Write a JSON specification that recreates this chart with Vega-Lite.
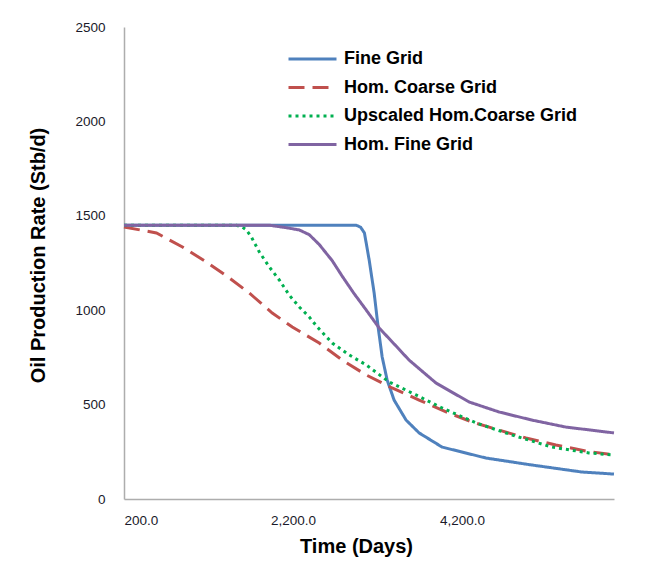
{
  "$schema": "https://vega.github.io/schema/vega-lite/v6.json",
  "width": 490,
  "height": 472,
  "autosize": {"type": "none"},
  "padding": {"left": 124, "top": 27, "right": 47, "bottom": 63},
  "background": "white",
  "config": {
    "view": {"stroke": null},
    "axis": {"grid": false, "ticks": false, "domainColor": "#ADADAD", "domainWidth": 1.5,
             "labelFont": "Liberation Sans", "labelFontSize": 13.5, "labelColor": "#1a1a2a",
             "titleFont": "Liberation Sans", "titleFontSize": 20, "titleFontWeight": "bold", "titleColor": "#000000"},
    "legend": {"labelFont": "Liberation Sans", "labelFontSize": 18, "labelFontWeight": "bold", "labelColor": "#000000", "labelLimit": 400}
  },
  "data": {"values": [
    {"series": "Fine Grid", "t": 200, "q": 1450},
    {"series": "Fine Grid", "t": 1000, "q": 1450},
    {"series": "Fine Grid", "t": 2000, "q": 1450},
    {"series": "Fine Grid", "t": 2948, "q": 1450},
    {"series": "Fine Grid", "t": 3000, "q": 1440},
    {"series": "Fine Grid", "t": 3046, "q": 1409},
    {"series": "Fine Grid", "t": 3102, "q": 1266},
    {"series": "Fine Grid", "t": 3161, "q": 1091},
    {"series": "Fine Grid", "t": 3208, "q": 911},
    {"series": "Fine Grid", "t": 3256, "q": 752},
    {"series": "Fine Grid", "t": 3315, "q": 630},
    {"series": "Fine Grid", "t": 3397, "q": 524},
    {"series": "Fine Grid", "t": 3539, "q": 418},
    {"series": "Fine Grid", "t": 3693, "q": 350},
    {"series": "Fine Grid", "t": 3965, "q": 275},
    {"series": "Fine Grid", "t": 4485, "q": 217},
    {"series": "Fine Grid", "t": 5028, "q": 180},
    {"series": "Fine Grid", "t": 5619, "q": 143},
    {"series": "Fine Grid", "t": 6000, "q": 132},
    {"series": "Hom. Coarse Grid", "t": 200, "q": 1441},
    {"series": "Hom. Coarse Grid", "t": 584, "q": 1409},
    {"series": "Hom. Coarse Grid", "t": 892, "q": 1335},
    {"series": "Hom. Coarse Grid", "t": 1175, "q": 1255},
    {"series": "Hom. Coarse Grid", "t": 1447, "q": 1171},
    {"series": "Hom. Coarse Grid", "t": 1683, "q": 1091},
    {"series": "Hom. Coarse Grid", "t": 1955, "q": 985},
    {"series": "Hom. Coarse Grid", "t": 2192, "q": 911},
    {"series": "Hom. Coarse Grid", "t": 2511, "q": 826},
    {"series": "Hom. Coarse Grid", "t": 2783, "q": 736},
    {"series": "Hom. Coarse Grid", "t": 3067, "q": 657},
    {"series": "Hom. Coarse Grid", "t": 3373, "q": 588},
    {"series": "Hom. Coarse Grid", "t": 3693, "q": 524},
    {"series": "Hom. Coarse Grid", "t": 4012, "q": 461},
    {"series": "Hom. Coarse Grid", "t": 4320, "q": 408},
    {"series": "Hom. Coarse Grid", "t": 4639, "q": 365},
    {"series": "Hom. Coarse Grid", "t": 4958, "q": 323},
    {"series": "Hom. Coarse Grid", "t": 5312, "q": 286},
    {"series": "Hom. Coarse Grid", "t": 5666, "q": 254},
    {"series": "Hom. Coarse Grid", "t": 6000, "q": 233},
    {"series": "Upscaled Hom.Coarse Grid", "t": 200, "q": 1450},
    {"series": "Upscaled Hom.Coarse Grid", "t": 1530, "q": 1450},
    {"series": "Upscaled Hom.Coarse Grid", "t": 1600, "q": 1440},
    {"series": "Upscaled Hom.Coarse Grid", "t": 1648, "q": 1425},
    {"series": "Upscaled Hom.Coarse Grid", "t": 1707, "q": 1388},
    {"series": "Upscaled Hom.Coarse Grid", "t": 1802, "q": 1308},
    {"series": "Upscaled Hom.Coarse Grid", "t": 1920, "q": 1229},
    {"series": "Upscaled Hom.Coarse Grid", "t": 2038, "q": 1160},
    {"series": "Upscaled Hom.Coarse Grid", "t": 2156, "q": 1080},
    {"series": "Upscaled Hom.Coarse Grid", "t": 2275, "q": 1017},
    {"series": "Upscaled Hom.Coarse Grid", "t": 2393, "q": 964},
    {"series": "Upscaled Hom.Coarse Grid", "t": 2490, "q": 910},
    {"series": "Upscaled Hom.Coarse Grid", "t": 2665, "q": 826},
    {"series": "Upscaled Hom.Coarse Grid", "t": 2866, "q": 763},
    {"series": "Upscaled Hom.Coarse Grid", "t": 3067, "q": 710},
    {"series": "Upscaled Hom.Coarse Grid", "t": 3338, "q": 620},
    {"series": "Upscaled Hom.Coarse Grid", "t": 3657, "q": 551},
    {"series": "Upscaled Hom.Coarse Grid", "t": 3965, "q": 482},
    {"series": "Upscaled Hom.Coarse Grid", "t": 4367, "q": 403},
    {"series": "Upscaled Hom.Coarse Grid", "t": 4793, "q": 339},
    {"series": "Upscaled Hom.Coarse Grid", "t": 5265, "q": 275},
    {"series": "Upscaled Hom.Coarse Grid", "t": 5702, "q": 244},
    {"series": "Upscaled Hom.Coarse Grid", "t": 6000, "q": 233},
    {"series": "Hom. Fine Grid", "t": 200, "q": 1450},
    {"series": "Hom. Fine Grid", "t": 1920, "q": 1450},
    {"series": "Hom. Fine Grid", "t": 2121, "q": 1437},
    {"series": "Hom. Fine Grid", "t": 2275, "q": 1425},
    {"series": "Hom. Fine Grid", "t": 2393, "q": 1400},
    {"series": "Hom. Fine Grid", "t": 2511, "q": 1348},
    {"series": "Hom. Fine Grid", "t": 2665, "q": 1262},
    {"series": "Hom. Fine Grid", "t": 2783, "q": 1180},
    {"series": "Hom. Fine Grid", "t": 2920, "q": 1090},
    {"series": "Hom. Fine Grid", "t": 3067, "q": 1001},
    {"series": "Hom. Fine Grid", "t": 3220, "q": 906},
    {"series": "Hom. Fine Grid", "t": 3400, "q": 820},
    {"series": "Hom. Fine Grid", "t": 3574, "q": 736},
    {"series": "Hom. Fine Grid", "t": 3894, "q": 614},
    {"series": "Hom. Fine Grid", "t": 4284, "q": 514},
    {"series": "Hom. Fine Grid", "t": 4639, "q": 461},
    {"series": "Hom. Fine Grid", "t": 5028, "q": 418},
    {"series": "Hom. Fine Grid", "t": 5430, "q": 381},
    {"series": "Hom. Fine Grid", "t": 6000, "q": 350}
  ]},
  "encoding": {
    "x": {"field": "t", "type": "quantitative", "scale": {"domain": [200, 6000], "nice": false, "zero": false},
          "axis": {"values": [200, 2200, 4200], "format": ",.1f", "labelPadding": 14, "title": "Time (Days)", "titlePadding": 10, "titleX": 232}},
    "y": {"field": "q", "type": "quantitative", "scale": {"domain": [0, 2500], "nice": false},
          "axis": {"values": [0, 500, 1000, 1500, 2000, 2500], "format": "d", "labelPadding": 19, "title": "Oil Production Rate (Stb/d)", "titlePadding": 26, "titleY": 228}},
    "color": {"field": "series", "type": "nominal",
              "scale": {"domain": ["Fine Grid", "Hom. Coarse Grid", "Upscaled Hom.Coarse Grid", "Hom. Fine Grid"],
                        "range": ["#4F81BD", "#C0504D", "#00B050", "#8064A2"]},
              "legend": {"orient": "none", "legendX": 163, "legendY": 21, "title": null, "symbolType": "stroke",
                         "symbolSize": 2304, "symbolStrokeWidth": 3, "clipHeight": 22, "rowPadding": 6.5, "labelOffset": 6}},
    "strokeDash": {"field": "series", "type": "nominal",
                   "scale": {"domain": ["Fine Grid", "Hom. Coarse Grid", "Upscaled Hom.Coarse Grid", "Hom. Fine Grid"],
                             "range": [[1, 0], [16, 8], [3, 4], [1, 0]]},
                   "legend": {"orient": "none", "legendX": 163, "legendY": 21, "title": null, "symbolType": "stroke",
                              "symbolSize": 2304, "symbolStrokeWidth": 3, "clipHeight": 22, "rowPadding": 6.5, "labelOffset": 6}}
  },
  "layer": [
    {"transform": [{"filter": "datum.series == 'Fine Grid'"}], "mark": {"type": "line", "strokeWidth": 3}},
    {"transform": [{"filter": "datum.series == 'Hom. Coarse Grid'"}], "mark": {"type": "line", "strokeWidth": 3}},
    {"transform": [{"filter": "datum.series == 'Upscaled Hom.Coarse Grid'"}], "mark": {"type": "line", "strokeWidth": 3}},
    {"transform": [{"filter": "datum.series == 'Hom. Fine Grid'"}], "mark": {"type": "line", "strokeWidth": 3}}
  ]
}
